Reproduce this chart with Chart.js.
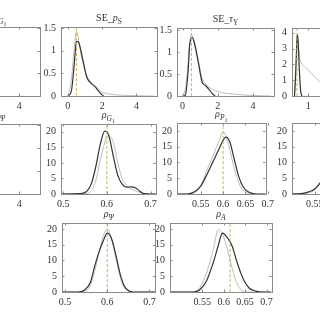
<!DOCTYPE html>
<html>
<head>
<meta charset="utf-8">
<script src="https://cdn.jsdelivr.net/npm/chart.js@4/dist/chart.umd.min.js"></script>
<style>
  html, body { margin: 0; padding: 0; background: #fff; }
  body { width: 320px; height: 320px; position: relative; overflow: hidden; }
  canvas { position: absolute; }
</style>
</head>
<body>
<script>
// --- data ---
// SE_pS
const sePsX     = [0, 0.2, 0.35, 0.45, 0.5, 0.6, 0.7, 0.9, 1.1, 1.3, 1.6, 1.8, 2.0, 2.1, 2.5, 3, 4, 5];
const sePsDark  = [0, 0.1, 0.6, 1.05, 1.2, 1.2, 1.1, 0.75, 0.42, 0.3, 0.2, 0.1, 0.02, 0, null, null, null, null];
const sePsLight = [0, 0.35, 0.95, 1.35, 1.42, 1.3, 1.05, 0.7, 0.45, 0.32, 0.22, 0.15, 0.09, 0.07, 0.04, 0.02, 0.005, 0];
const sePsTrue  = 0.5;

// SE_tauY
const seTyX     = [0, 0.15, 0.3, 0.4, 0.5, 0.55, 0.7, 0.9, 1.1, 1.3, 1.5, 1.7, 1.85, 2.2, 2.5, 3, 4, 5];
const seTyDark  = [0, 0.02, 0.5, 1.15, 1.32, 1.33, 1.15, 0.75, 0.33, 0.24, 0.15, 0.05, 0, null, null, null, null, null];
const seTyLight = [0, 0.15, 0.7, 1.2, 1.4, 1.38, 1.2, 0.8, 0.42, 0.28, 0.2, 0.15, 0.12, 0.08, 0.06, 0.04, 0.01, 0];
const seTyTrue  = 0.5;

// fourth panel, top row (cut off)
const top4X     = [0.45, 0.5, 0.55, 0.57, 0.6, 0.65, 0.7, 0.75, 0.9, 1.1, 1.3, 1.5];
const top4Dark  = [0, 1.5, 3.6, 3.9, 3.3, 1.5, 0.3, 0, null, null, null, null];
const top4Light = [0, 1.2, 3.4, 3.8, 3.4, 2.5, 2.2, 2.0, 1.8, 1.5, 1.15, 0.85];
const top4True  = 0.55;

// rho_G1
const rhoGX     = [0.495, 0.54, 0.555, 0.565, 0.575, 0.585, 0.595, 0.6, 0.605, 0.615, 0.625, 0.635, 0.645, 0.655, 0.665, 0.675, 0.685, 0.7, 0.712];
const rhoGDark  = [0, 0.1, 1, 3.5, 9, 16, 20.2, 20, 18.5, 12, 6, 3.2, 2.2, 2.3, 2.0, 1.0, 0.1, 0, 0];
const rhoGLight = [0, 0, 0.2, 1.2, 4.5, 11, 16.5, 18.5, 18.8, 16.5, 10, 5, 2.8, 1.6, 1, 0.5, 0.2, 0, 0];
const rhoGTrue  = 0.6;

// rho_P1
const rhoPX     = [0.497, 0.52, 0.535, 0.55, 0.565, 0.58, 0.59, 0.6, 0.606, 0.615, 0.625, 0.635, 0.645, 0.655, 0.665, 0.675, 0.695];
const rhoPDark  = [0, 0, 0.6, 2.5, 6.5, 11, 14, 17, 18, 16.5, 11, 5.5, 2.2, 0.8, 0.2, 0, 0];
const rhoPLight = [0, 0, 0.3, 2.5, 8, 13, 16.5, 19.7, 18.5, 14, 8, 3.5, 1, 0.2, 0, 0, 0];
const rhoPTrue  = 0.6;

// fourth panel, middle row (cut off)
const mid4X     = [0.5, 0.52, 0.535, 0.55, 0.565];
const mid4Dark  = [0, 0.1, 0.6, 1.6, 4];
const mid4Light = [0, 0, 0.3, 1.3, 4.5];

// rho_Psi
const rhoPsiX     = [0.493, 0.53, 0.545, 0.56, 0.57, 0.58, 0.59, 0.6, 0.61, 0.62, 0.63, 0.64, 0.65, 0.66, 0.714];
const rhoPsiDark  = [0, 0, 0.5, 3, 8, 12.5, 16, 18.7, 17, 12, 6, 2, 0.5, 0, 0];
const rhoPsiLight = [0, 0, 0.2, 2, 6.5, 12, 17.5, 20, 17, 11, 5, 1.5, 0.3, 0, 0];
const rhoPsiTrue  = 0.6;

// rho_A
const rhoAX     = [0.475, 0.53, 0.545, 0.56, 0.575, 0.588, 0.597, 0.61, 0.62, 0.63, 0.64, 0.65, 0.66, 0.675, 0.69, 0.71];
const rhoADark  = [0, 0, 0.8, 3.5, 9, 15, 18.7, 17, 14.5, 10, 6, 3, 1.2, 0.3, 0, 0];
const rhoALight = [0, 0, 1.5, 6, 13, 19.8, 18.5, 13, 7.5, 3, 0.8, 0, 0, 0, 0, 0];
const rhoATrue  = 0.615;

// tick labels
const seTicksX   = [0, 2, 4];
const seTicksY   = [0, 0.5, 1, 1.5];
const top4TicksX = [1, 2, 3, 4];
const top4TicksY = [0, 1, 2, 3, 4];
const rhoTicksY  = [0, 5, 10, 15, 20];
const rhoTicksWide   = [0.5, 0.6, 0.7];
const rhoTicksNarrow = [0.55, 0.6, 0.65, 0.7];

const FONT = "'Liberation Serif', 'DejaVu Serif', serif";
const DARK = '#333333';
const LIGHT = '#bdbdbd';
const TRUE_COL = '#c8b25a';

function pts(xs, ys) {
    return xs.map((x, i) => ({ x: x, y: ys[i] }));
}

// title made of pieces: [text, italic, level] (level 0 normal, 1 subscript, 2 sub-subscript)
const titlePlugin = {
    id: 'titleParts',
    afterDraw(chart, args, opts) {
        const parts = opts.parts;
        if (!parts) return;
        const ctx = chart.ctx;
        const sizes = [10, 7.5, 6];
        const drops = [0, 2.5, 4.5];
        let w = 0;
        parts.forEach(p => {
            ctx.font = (p[1] ? 'italic ' : '') + sizes[p[2]] + 'px ' + FONT;
            w += ctx.measureText(p[0]).width;
        });
        const a = chart.chartArea;
        let x = (a.left + a.right) / 2 - w / 2;
        const base = a.top - 6;
        ctx.save();
        ctx.fillStyle = '#333';
        ctx.textBaseline = 'alphabetic';
        ctx.textAlign = 'left';
        parts.forEach(p => {
            ctx.font = (p[1] ? 'italic ' : '') + sizes[p[2]] + 'px ' + FONT;
            ctx.fillText(p[0], x, base + drops[p[2]]);
            x += ctx.measureText(p[0]).width;
        });
        ctx.restore();
    }
};

// MATLAB-style box with inward ticks
const boxPlugin = {
    id: 'boxTicks',
    afterDatasetsDraw(chart) {
        const ctx = chart.ctx;
        const a = chart.chartArea;
        const sx = chart.scales.x, sy = chart.scales.y;
        ctx.save();
        ctx.strokeStyle = '#8a8a8a';
        ctx.lineWidth = 1;
        ctx.strokeRect(Math.round(a.left) + 0.5, Math.round(a.top) + 0.5,
            Math.round(a.right - a.left), Math.round(a.bottom - a.top));
        ctx.beginPath();
        sx.ticks.forEach(t => {
            const px = Math.round(sx.getPixelForValue(t.value)) + 0.5;
            ctx.moveTo(px, a.bottom); ctx.lineTo(px, a.bottom - 2.5);
            ctx.moveTo(px, a.top); ctx.lineTo(px, a.top + 2.5);
        });
        sy.ticks.forEach(t => {
            const py = Math.round(sy.getPixelForValue(t.value)) + 0.5;
            ctx.moveTo(a.left, py); ctx.lineTo(a.left + 2.5, py);
            ctx.moveTo(a.right, py); ctx.lineTo(a.right - 2.5, py);
        });
        ctx.stroke();
        ctx.restore();
    }
};

function fmt(v) {
    return String(+Number(v).toFixed(3));
}

function panel(box, p) {
    const [left, top, w, h] = box;
    const cv = document.createElement('canvas');
    cv.width = w + 36;
    cv.height = h + 34;
    cv.style.left = (left - 32) + 'px';
    cv.style.top = (top - 16) + 'px';
    cv.style.width = cv.width + 'px';
    cv.style.height = cv.height + 'px';
    document.body.appendChild(cv);

    const datasets = [];
    if (p.truth !== undefined) {
        datasets.push({
            data: [{ x: p.truth, y: 0 }, { x: p.truth, y: p.yMax }],
            borderColor: TRUE_COL, borderWidth: 1, borderDash: [3, 2], order: 0
        });
    }
    if (p.dark) datasets.push({ data: pts(p.x, p.dark), borderColor: DARK, borderWidth: 1.2, order: 1 });
    if (p.light) datasets.push({ data: pts(p.x, p.light), borderColor: LIGHT, borderWidth: 1, order: 2 });

    new Chart(cv.getContext('2d'), {
        type: 'scatter',
        data: { datasets: datasets },
        options: {
            responsive: false,
            animation: false,
            devicePixelRatio: 1,
            layout: { padding: { top: 16, right: 4, left: 0, bottom: 0 }, autoPadding: false },
            elements: {
                point: { radius: 0, hoverRadius: 0 },
                line: { cubicInterpolationMode: 'monotone', fill: false }
            },
            datasets: { scatter: { showLine: true, spanGaps: false } },
            plugins: {
                legend: { display: false },
                tooltip: { enabled: false },
                titleParts: { parts: p.title }
            },
            scales: {
                x: {
                    type: 'linear', min: p.xMin, max: p.xMax,
                    grid: { display: false, drawTicks: false },
                    border: { display: false },
                    afterBuildTicks: s => { s.ticks = p.xTicks.map(v => ({ value: v })); },
                    afterFit: s => { s.height = 18; },
                    ticks: { color: '#333', font: { family: FONT, size: 10 }, padding: 4, maxRotation: 0, autoSkip: false, callback: fmt }
                },
                y: {
                    type: 'linear', min: 0, max: p.yMax,
                    grid: { display: false, drawTicks: false },
                    border: { display: false },
                    afterBuildTicks: s => { s.ticks = p.yTicks.map(v => ({ value: v })); },
                    afterFit: s => { s.width = 32; },
                    ticks: { color: '#333', font: { family: FONT, size: 10 }, padding: 5, autoSkip: false, callback: fmt }
                }
            }
        },
        plugins: [boxPlugin, titlePlugin]
    });
}

// top row
panel([-57, 27, 97, 69], {
    xMin: -0.4, xMax: 5.2, yMax: 1.52, xTicks: seTicksX, yTicks: seTicksY,
    title: [['SE_', 0, 0], ['ρ', 1, 0], ['G', 1, 1], ['1', 0, 2]]
});
panel([61, 27, 96, 69], {
    xMin: -0.4, xMax: 5.2, yMax: 1.52, xTicks: seTicksX, yTicks: seTicksY,
    x: sePsX, dark: sePsDark, light: sePsLight, truth: sePsTrue,
    title: [['SE_', 0, 0], ['p', 1, 0], ['S', 0, 1]]
});
panel([177, 28, 97, 68], {
    xMin: -0.32, xMax: 5.2, yMax: 1.55, xTicks: seTicksX, yTicks: seTicksY,
    x: seTyX, dark: seTyDark, light: seTyLight, truth: seTyTrue,
    title: [['SE_', 0, 0], ['τ', 1, 0], ['Y', 0, 1]]
});
panel([292, 28, 97, 68], {
    xMin: 0.35, xMax: 4.25, yMax: 4.3, xTicks: top4TicksX, yTicks: top4TicksY,
    x: top4X, dark: top4Dark, light: top4Light, truth: top4True,
    title: [['SE_', 0, 0], ['σ', 1, 0]]
});

// middle row
panel([-57, 124, 97, 70], {
    xMin: -0.4, xMax: 5.2, yMax: 1.52, xTicks: seTicksX, yTicks: seTicksY,
    title: [['SE_', 0, 0], ['σ', 1, 0], ['Ψ', 1, 1]]
});
panel([61, 124, 96, 70], {
    xMin: 0.495, xMax: 0.712, yMax: 22.5, xTicks: rhoTicksWide, yTicks: rhoTicksY,
    x: rhoGX, dark: rhoGDark, light: rhoGLight, truth: rhoGTrue,
    title: [['ρ', 1, 0], ['G', 1, 1], ['1', 0, 2]]
});
panel([177, 123, 97, 71], {
    xMin: 0.497, xMax: 0.695, yMax: 22.5, xTicks: rhoTicksNarrow, yTicks: rhoTicksY,
    x: rhoPX, dark: rhoPDark, light: rhoPLight, truth: rhoPTrue,
    title: [['ρ', 1, 0], ['P', 1, 1], ['1', 0, 2]]
});
panel([292, 123, 97, 71], {
    xMin: 0.5, xMax: 0.695, yMax: 22.5, xTicks: rhoTicksNarrow, yTicks: rhoTicksY,
    x: mid4X, dark: mid4Dark, light: mid4Light,
    title: [['ρ', 1, 0], ['G', 1, 1], ['2', 0, 2]]
});

// bottom row
panel([62, 223, 94, 69], {
    xMin: 0.493, xMax: 0.714, yMax: 21.9, xTicks: rhoTicksWide, yTicks: rhoTicksY,
    x: rhoPsiX, dark: rhoPsiDark, light: rhoPsiLight, truth: rhoPsiTrue,
    title: [['ρ', 1, 0], ['Ψ', 1, 1]]
});
panel([170, 223, 103, 69], {
    xMin: 0.475, xMax: 0.712, yMax: 21.9, xTicks: rhoTicksNarrow, yTicks: rhoTicksY,
    x: rhoAX, dark: rhoADark, light: rhoALight, truth: rhoATrue,
    title: [['ρ', 1, 0], ['A', 1, 1]]
});
</script>
</body>
</html>
